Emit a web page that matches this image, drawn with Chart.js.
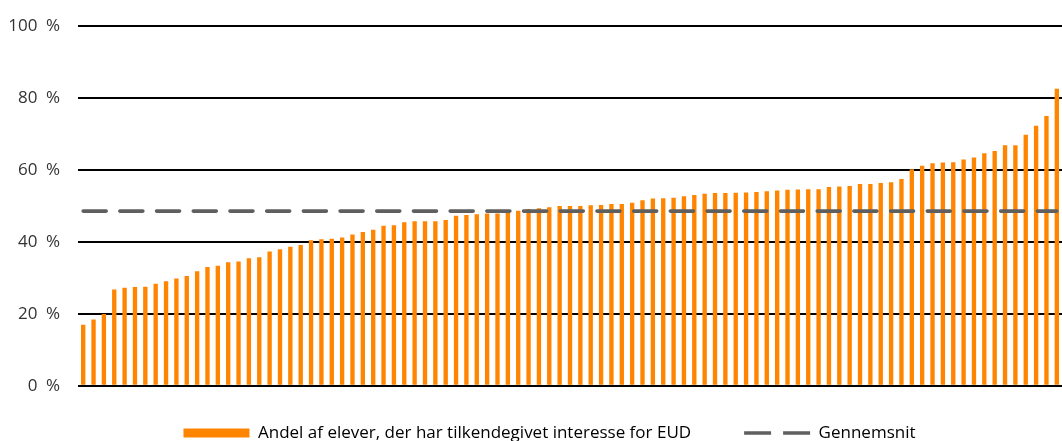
<!DOCTYPE html>
<html>
<head>
<meta charset="utf-8">
<script src="https://cdn.jsdelivr.net/npm/chart.js@4.4.1/dist/chart.umd.min.js"></script>
<style>
  html, body { margin: 0; padding: 0; background: #fff; }
  #wrap { width: 1062px; height: 441px; }
</style>
</head>
<body>
<div id="wrap"><canvas id="eudChart"></canvas></div>
<script>
// andel af elever pr. skole, sorteret stigende
const shares = [
  16.9, 18.4, 19.9, 26.7, 27.2, 27.4, 27.5, 28.3, 29.0, 29.8,
  30.5, 31.8, 33.0, 33.3, 34.3, 34.5, 35.4, 35.7, 37.3, 37.9,
  38.6, 39.1, 40.4, 40.7, 40.8, 41.2, 42.0, 42.7, 43.3, 44.4,
  44.6, 45.4, 45.7, 45.7, 45.7, 46.0, 47.2, 47.4, 47.6, 47.8,
  47.8, 48.2, 48.6, 49.1, 49.3, 49.6, 49.9, 49.9, 49.9, 50.1,
  50.2, 50.5, 50.5, 50.8, 51.5, 52.0, 52.1, 52.2, 52.6, 53.0,
  53.3, 53.5, 53.5, 53.6, 53.7, 53.8, 54.0, 54.2, 54.4, 54.5,
  54.6, 54.6, 55.2, 55.3, 55.5, 56.0, 56.0, 56.3, 56.5, 57.4,
  60.1, 61.1, 61.8, 62.0, 62.1, 62.8, 63.4, 64.6, 65.2, 66.8,
  66.8, 69.7, 72.2, 74.9, 82.5
];
const schools = shares.map((_, i) => 'Skole ' + (i + 1));
const meanValue = 48.5;
const yTicks = [0, 20, 40, 60, 80, 100];

const barLabel = 'Andel af elever, der har tilkendegivet interesse for EUD';
const meanLabel = 'Gennemsnit';

const ORANGE = '#ff8500';
const GREY = '#5f5f5f';
const TEXT = '#333333';
const FONT = "'Open Sans', 'Noto Sans', sans-serif";

// legenden ligger lidt til højre og lavere end Chart.js selv placerer den
const legendShift = {
  id: 'legendShift',
  afterLayout(chart) {
    const lg = chart.legend;
    lg.left += 18.5; lg.right += 18.5;
    lg.top -= 22.5;
    lg.bottom = chart.height;
  }
};

new Chart(document.getElementById('eudChart'), {
  type: 'bar',
  data: {
    labels: schools,
    datasets: [
      {
        type: 'line',
        label: meanLabel,
        data: schools.map(() => meanValue),
        borderColor: GREY,
        borderWidth: 3.6,
        borderDash: [23, 13.7],
        borderCapStyle: 'round',
        pointRadius: 0,
        fill: false,
        order: 0
      },
      {
        label: barLabel,
        data: shares,
        backgroundColor: ORANGE,
        categoryPercentage: 1,
        barPercentage: 0.42,
        order: 1
      }
    ]
  },
  plugins: [legendShift],
  options: {
    responsive: true,
    maintainAspectRatio: false,
    animation: false,
    layout: { padding: { left: 0, right: 0, top: 25.7, bottom: 0 } },
    scales: {
      x: {
        afterFit: s => { s.height = 8.3; },
        ticks: { display: false },
        grid: { display: false },
        border: { display: false }
      },
      y: {
        min: 0,
        max: 100,
        afterFit: s => { s.width = 78; s.paddingTop = 0; s.paddingBottom = 0; },
        afterBuildTicks: s => { s.ticks = yTicks.map(v => ({ value: v })); },
        ticks: {
          padding: 18,
          color: TEXT,
          font: { family: FONT, size: 17 },
          callback: v => v + '\u2002%'
        },
        grid: { color: '#000', lineWidth: 2, drawTicks: false },
        border: { display: false }
      }
    },
    plugins: {
      tooltip: { enabled: false },
      legend: {
        position: 'bottom',
        maxHeight: 47,
        labels: {
          color: TEXT,
          font: { family: FONT, size: 17 },
          usePointStyle: true,
          pointStyleWidth: 66,
          boxWidth: 66,
          boxHeight: 9,
          padding: 53,
          generateLabels: () => [
            { text: barLabel, fillStyle: ORANGE, strokeStyle: ORANGE, lineWidth: 0, pointStyle: 'rect', datasetIndex: 1 },
            { text: meanLabel, fillStyle: 'rgba(0,0,0,0)', strokeStyle: GREY, lineWidth: 3.6, lineDash: [27, 12], pointStyle: 'line', datasetIndex: 0 }
          ]
        }
      }
    }
  }
});
</script>
</body>
</html>
